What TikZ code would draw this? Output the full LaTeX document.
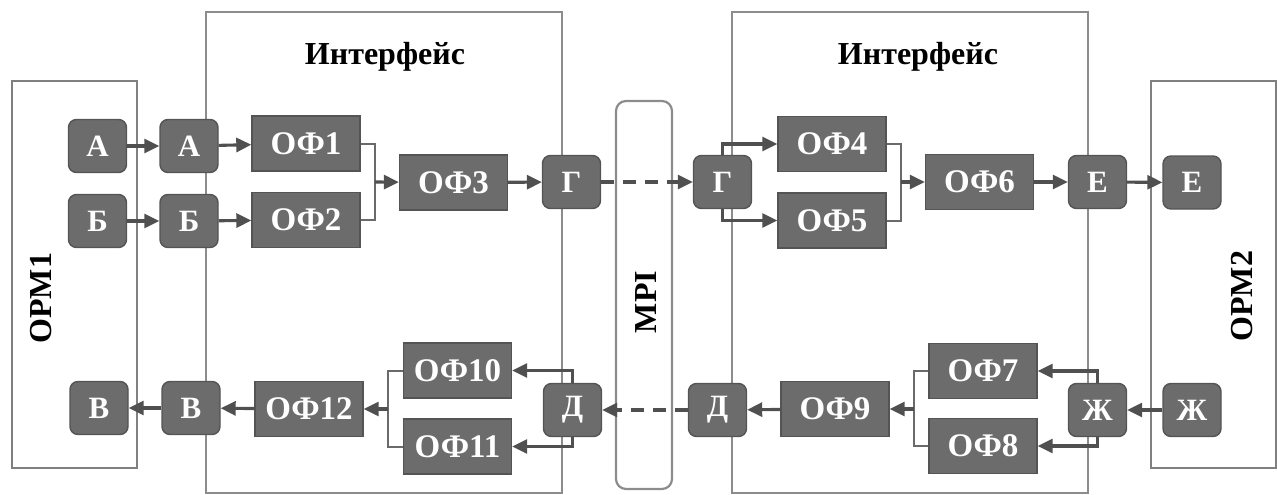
\documentclass[tikz,border=0pt]{standalone}
\usepackage{fontspec}
\setmainfont{Liberation Serif}
\usepackage{tikz}
\usetikzlibrary{arrows.meta,backgrounds,positioning,calc}
\definecolor{boxgray}{HTML}{6C6C6C}
\definecolor{boxedge}{HTML}{545454}
\definecolor{linegray}{HTML}{505050}
\definecolor{wallgray}{HTML}{8C8C8C}
\tikzstyle{port}=[rounded corners=8pt, fill=boxgray, draw=boxedge, line width=1.4pt, minimum width=58pt, minimum height=53pt, inner sep=0pt, text=white, font=\bfseries\fontsize{31}{31}\selectfont]
\tikzstyle{block}=[fill=boxgray, draw=boxedge, line width=1.4pt, minimum width=108pt, minimum height=55pt, inner sep=0pt, text=white, font=\bfseries\fontsize{33}{33}\selectfont]
\tikzstyle{link}=[draw=linegray, line width=3.1pt, -{Triangle[length=15pt,width=14pt]}]
\tikzstyle{bus}=[draw=linegray!85, line width=2pt]
\tikzstyle{wall}=[draw=wallgray, line width=2.2pt]
\tikzstyle{title}=[font=\bfseries\fontsize{32}{32}\selectfont]

\begin{document}
\begin{tikzpicture}[x=1pt, y=-1pt]
        \useasboundingbox (0,0) rectangle (1277,495);
        % frames
        \draw[wall, draw=gray] (12,81) rectangle (137,468);
        \draw[wall] (206,12) rectangle (562,493);
        \draw[wall, rounded corners=10pt] (616,101) rectangle (672,489);
        \draw[wall] (732,12) rectangle (1088,493);
        \draw[wall, draw=gray] (1151,81) rectangle (1276,468);
        \node at (385,57) [title] (if1) {Интерфейс};
        \node at (918,57) [title] (if2) {Интерфейс};
        \node at (41,298) [title, rotate=90] (orm1) {ОРМ1};
        \node at (1242,296) [title, rotate=90] (orm2) {ОРМ2};
        \node at (646,302) [title, rotate=90] (mpi) {MPI};
        %
        \node at (97.5,146) [port] (a1) {А};
        \node at (189,146) [port] (a2) {А};
        \node at (97.5,221) [port] (b1) {Б};
        \node at (189,221) [port] (b2) {Б};
        \node at (306,143.5) [block] (of1) {ОФ1};
        \node at (306,220) [block] (of2) {ОФ2};
        \node at (453.5,182.5) [block] (of3) {ОФ3};
        \node at (571.5,182) [port] (g1) {Г};
        \node at (722.5,182) [port] (g2) {Г};
        \node at (832,144) [block] (of4) {ОФ4};
        \node at (832,220.5) [block] (of5) {ОФ5};
        \node at (979.5,182) [block] (of6) {ОФ6};
        \node at (1097.5,182) [port] (e1) {Е};
        \node at (1192,182.5) [port] (e2) {Е};
        %
        \node at (99,408) [port] (v1) {В};
        \node at (191,408) [port] (v2) {В};
        \node at (309,409) [block] (of12) {ОФ12};
        \node at (457.5,370.5) [block] (of10) {ОФ10};
        \node at (457.5,446.5) [block] (of11) {ОФ11};
        \node at (572.5,410) [port] (d1) {Д};
        \node at (717.5,410) [port] (d2) {Д};
        \node at (835,409) [block] (of9) {ОФ9};
        \node at (983,371) [block] (of7) {ОФ7};
        \node at (983,446) [block] (of8) {ОФ8};
        \node at (1097.5,410) [port] (zh1) {Ж};
        \node at (1192,410) [port] (zh2) {Ж};
        %
        \coordinate (m1) at (375,182);
        \coordinate (m2) at (901,182);
        \coordinate (m3) at (388,409);
        \coordinate (m4) at (914,409);
        % forward
        \draw[link] (a1) -- (a2);
        \draw[link] (a2) -- (of1);
        \draw[link] (b1) -- (b2);
        \draw[link] (b2) -- (of2);
        \draw[bus] (of1.east) -| (m1) |- (of2.east);
        \draw[link] (m1) -- (of3);
        \draw[link] (of3) -- (g1);
        \draw[link, dash pattern=on 13pt off 9pt] (g1) -- (g2);
        \draw[link] (g2.north) |- (of4.west);
        \draw[link] (g2.south) |- (of5.west);
        \draw[bus] (of4.east) -| (m2) |- (of5.east);
        \draw[link] (m2) -- (of6);
        \draw[link] (of6) -- (e1);
        \draw[link] (e1) -- (e2);
        % back
        \draw[link] (zh2) -- (zh1);
        \draw[link] (zh1.north) |- (of7.east);
        \draw[link] (zh1.south) |- (of8.east);
        \draw[bus] (of7.west) -| (m4) |- (of8.west);
        \draw[link] (m4) -- (of9);
        \draw[link] (of9) -- (d2);
        \draw[link, dash pattern=on 13pt off 9pt] (d2) -- (d1);
        \draw[link] (d1.north) |- (of10.east);
        \draw[link] (d1.south) |- (of11.east);
        \draw[bus] (of10.west) -| (m3) |- (of11.west);
        \draw[link] (m3) -- (of12);
        \draw[link] (of12) -- (v2);
        \draw[link] (v2) -- (v1);
\end{tikzpicture}
\end{document}
